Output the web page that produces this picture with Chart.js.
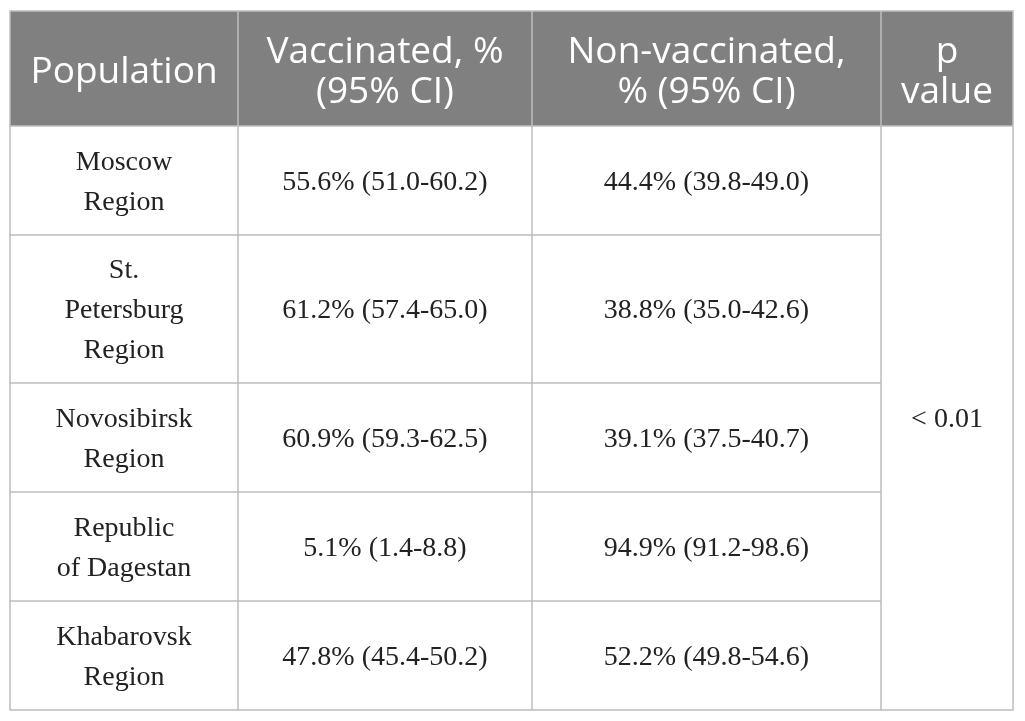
<!DOCTYPE html>
<html>
<head>
<meta charset="utf-8">
<script src="https://cdn.jsdelivr.net/npm/chart.js@4.4.0/dist/chart.umd.min.js"></script>
<style>
  html, body { margin: 0; padding: 0; background: #fff; }
  canvas { display: block; }
</style>
</head>
<body>
<canvas id="tableChart" width="1025" height="721"></canvas>
<script>
/* 데이터 */
const headers = [["Population"], ["Vaccinated, %", "(95% CI)"], ["Non-vaccinated,", "% (95% CI)"], ["p", "value"]];
const regions = [["Moscow", "Region"], ["St.", "Petersburg", "Region"], ["Novosibirsk", "Region"], ["Republic", "of Dagestan"], ["Khabarovsk", "Region"]];
const vaccinated = [55.6, 61.2, 60.9, 5.1, 47.8];
const vaccinatedLow = [51.0, 57.4, 59.3, 1.4, 45.4];
const vaccinatedHigh = [60.2, 65.0, 62.5, 8.8, 50.2];
const nonVaccinated = [44.4, 38.8, 39.1, 94.9, 52.2];
const nonVaccinatedLow = [39.8, 35.0, 37.5, 91.2, 49.8];
const nonVaccinatedHigh = [49.0, 42.6, 40.7, 98.6, 54.6];
const pValue = "< 0.01";

/* 레이아웃 (열 너비, 행 높이 비율) */
const colWidths = [228, 294, 349, 132];
const rowHeights = [115, 109, 148, 109, 109, 109];

function edges(arr) {
  var out = [0];
  arr.forEach(function (w) { out.push(out[out.length - 1] + w); });
  return out;
}
const colEdges = edges(colWidths);
const rowEdges = edges(rowHeights);

function fmt(v, lo, hi) {
  return v.toFixed(1) + "% (" + lo.toFixed(1) + "-" + hi.toFixed(1) + ")";
}

/* 표 그리는 플러그인 */
const tablePlugin = {
  id: 'tablePlugin',
  afterDraw: function (chart) {
    const ctx = chart.ctx;
    const xs = chart.scales.x, ys = chart.scales.y;
    const X = colEdges.map(function (v) { return xs.getPixelForValue(v); });
    const Y = rowEdges.map(function (v) { return ys.getPixelForValue(v); });

    ctx.save();
    // header
    ctx.fillStyle = '#808080';
    ctx.fillRect(X[0], Y[0], X[4] - X[0], Y[1] - Y[0]);

    // grid lines
    ctx.strokeStyle = '#bdbdbd';
    ctx.lineWidth = 1.5;
    ctx.strokeRect(X[0], Y[0], X[4] - X[0], Y[6] - Y[0]);
    ctx.beginPath();
    for (var c = 1; c < 4; c++) {
      ctx.moveTo(X[c], Y[0]);
      ctx.lineTo(X[c], Y[6]);
    }
    for (var r = 1; r < 6; r++) {
      ctx.moveTo(X[0], Y[r]);
      ctx.lineTo(r === 1 ? X[4] : X[3], Y[r]);
    }
    ctx.stroke();

    ctx.textAlign = 'center';
    ctx.textBaseline = 'middle';

    function lines(arr, cx, cy, lh) {
      var top = cy - (arr.length - 1) * lh / 2;
      arr.forEach(function (t, i) { ctx.fillText(t, cx, top + i * lh); });
    }

    // header text
    ctx.fillStyle = '#ffffff';
    ctx.font = '37px "Open Sans"';
    headers.forEach(function (h, c) {
      lines(h, (X[c] + X[c + 1]) / 2, (Y[0] + Y[1]) / 2 + 4, 40);
    });

    // body text
    ctx.fillStyle = '#222222';
    ctx.font = '28px "Liberation Serif"';
    regions.forEach(function (name, i) {
      var cy = (Y[i + 1] + Y[i + 2]) / 2 + 2;
      lines(name, (X[0] + X[1]) / 2, cy, 40);
      ctx.fillText(fmt(vaccinated[i], vaccinatedLow[i], vaccinatedHigh[i]), (X[1] + X[2]) / 2, cy);
      ctx.fillText(fmt(nonVaccinated[i], nonVaccinatedLow[i], nonVaccinatedHigh[i]), (X[2] + X[3]) / 2, cy);
    });
    ctx.fillText(pValue, (X[3] + X[4]) / 2, (Y[1] + Y[6]) / 2 + 2);
    ctx.restore();
  }
};

const ctx = document.getElementById('tableChart');
var config = {
  type: 'scatter',
  data: { datasets: [] },
  options: {
    responsive: false,
    animation: false,
    layout: { padding: { left: 10, right: 12, top: 11, bottom: 11 } },
    plugins: { legend: { display: false }, tooltip: { enabled: false } },
    scales: {
      x: { type: 'linear', min: 0, max: colEdges[colEdges.length - 1], display: false },
      y: { type: 'linear', reverse: true, min: 0, max: rowEdges[rowEdges.length - 1], display: false }
    }
  },
  plugins: [tablePlugin]
};

var tableChart = new Chart(ctx, config);
</script>
</body>
</html>
